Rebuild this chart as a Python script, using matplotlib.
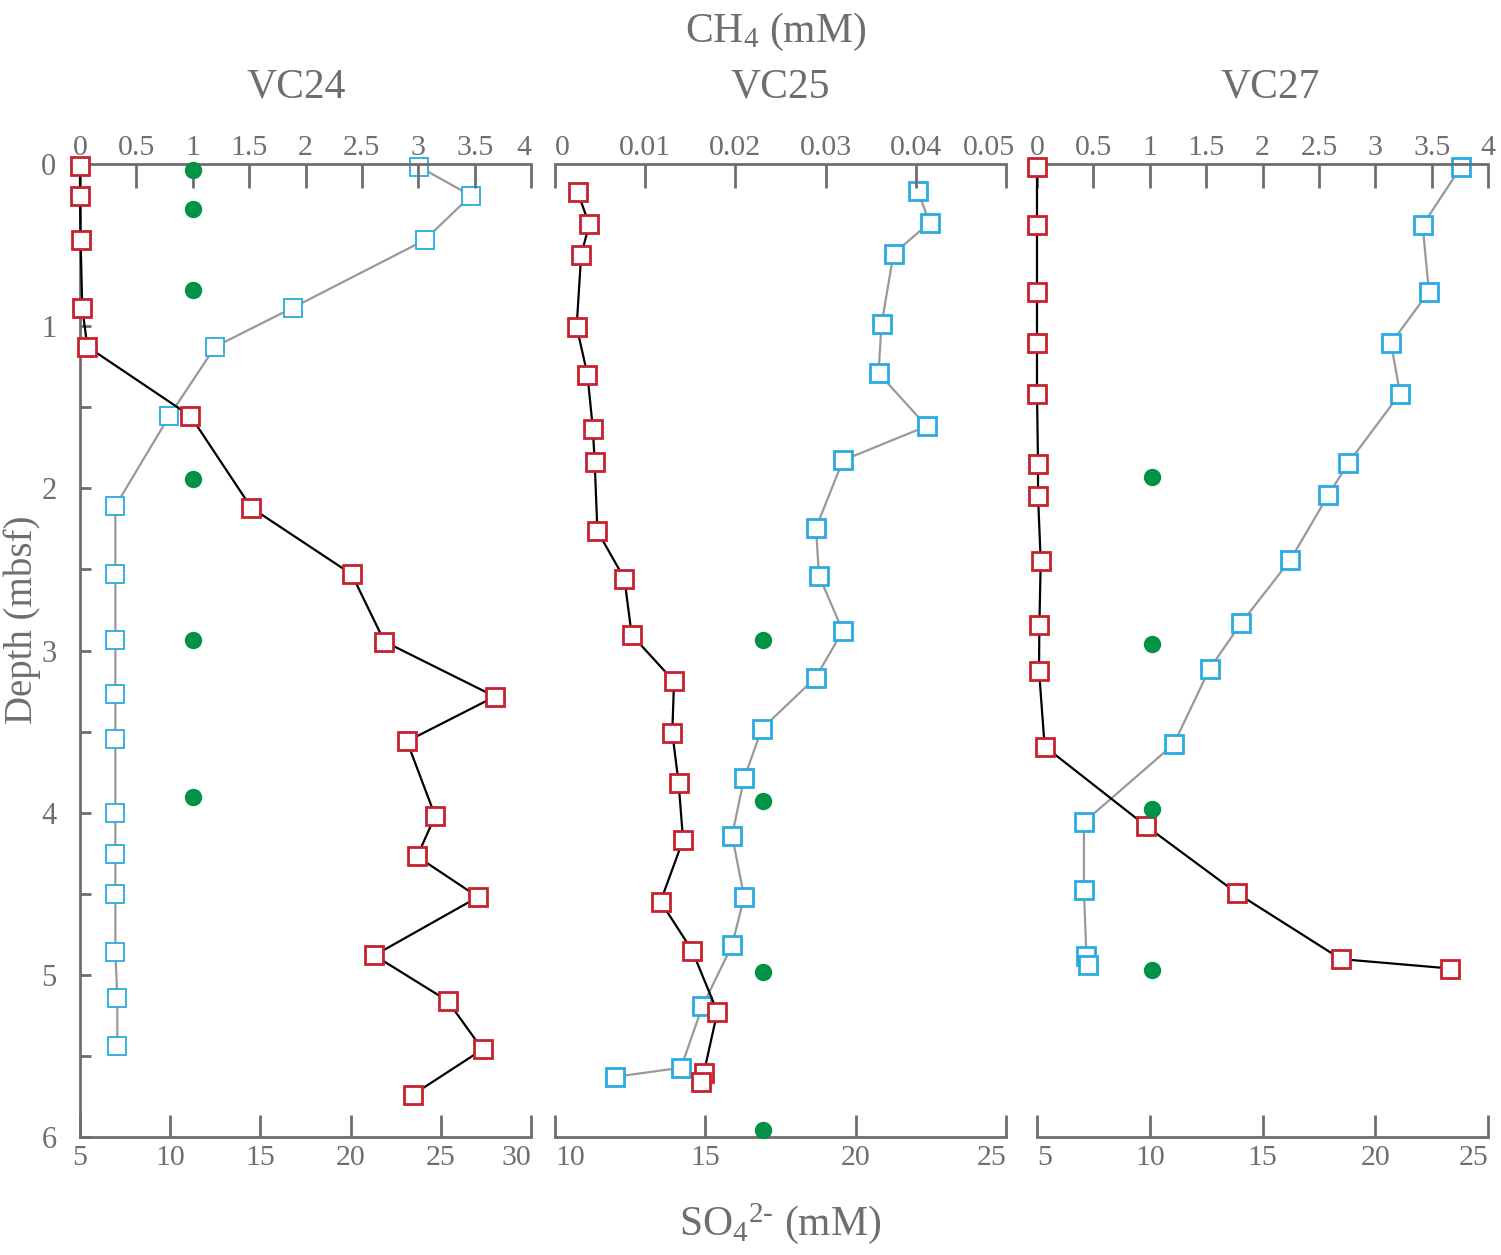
import matplotlib
matplotlib.use("Agg")
from matplotlib import pyplot as plt
from matplotlib.ticker import FixedLocator
from matplotlib.transforms import ScaledTranslation

plt.rcParams["font.family"] = ["Liberation Serif", "DejaVu Serif"]
plt.rcParams["mathtext.fontset"] = "custom"
plt.rcParams["mathtext.rm"] = "Liberation Serif"
plt.rcParams["mathtext.it"] = "Liberation Serif:italic"

GRAY = "#6e6e6e"
RED = "#c8202f"
BLUE = "#29abe2"
GREEN = "#009245"

# VC24
vc24_ch4_depth = [0.01, 0.195, 0.47, 0.886, 1.126, 1.554, 2.12, 2.53, 2.945,
                  3.284, 3.56, 4.02, 4.27, 4.52, 4.88, 5.16, 5.46, 5.74]
vc24_ch4 = [0, 0, 0.005, 0.02, 0.065, 0.98, 1.52, 2.41, 2.70,
            3.68, 2.90, 3.15, 2.99, 3.53, 2.61, 3.26, 3.57, 2.95]
vc24_so4_depth = [0.017, 0.195, 0.47, 0.886, 1.126, 1.552, 2.11, 2.53, 2.935,
                  3.27, 3.545, 4.003, 4.256, 4.50, 4.86, 5.14, 5.44]
vc24_so4 = [23.8, 26.67, 24.1, 16.8, 12.5, 9.96, 6.96, 6.96, 6.96,
            6.96, 6.96, 6.96, 6.96, 6.96, 6.96, 7.07, 7.07]
vc24_green_depth = [0.04, 0.28, 0.78, 1.94, 2.935, 3.905]
vc24_green_x = 1.0

# VC25
vc25_ch4_depth = [0.173, 0.372, 0.561, 1.003, 1.30, 1.634, 1.84, 2.263, 2.558, 2.904,
                  3.19, 3.506, 3.814, 4.168, 4.548, 4.85, 5.228, 5.606, 5.66]
vc25_ch4 = [0.0025, 0.0038, 0.0029, 0.0024, 0.0036, 0.0042, 0.0044, 0.0047, 0.0077, 0.0085,
            0.0132, 0.0130, 0.0137, 0.0142, 0.0117, 0.0152, 0.0180, 0.0165, 0.0162]
vc25_so4_depth = [0.164, 0.362, 0.553, 0.988, 1.289, 1.617, 1.827, 2.244, 2.538, 2.879,
                  3.167, 3.483, 3.787, 4.141, 4.519, 4.817, 5.195, 5.573, 5.629]
vc25_so4 = [22.06, 22.46, 21.26, 20.86, 20.76, 22.36, 19.58, 18.68, 18.78, 19.57,
            18.67, 16.88, 16.29, 15.89, 16.29, 15.89, 14.90, 14.19, 12.0]
vc25_green_depth = [2.935, 3.93, 4.98, 5.955]
vc25_green_x = 0.0231

# VC27
vc27_ch4_depth = [0.016, 0.378, 0.789, 1.106, 1.418, 1.848, 2.047, 2.448, 2.843,
                  3.124, 3.592, 4.08, 4.495, 4.903, 4.961]
vc27_ch4 = [0, 0, 0, 0, 0, 0.009, 0.009, 0.033, 0.021,
            0.018, 0.068, 0.964, 1.771, 2.696, 3.667]
vc27_so4_depth = [0.02, 0.378, 0.787, 1.106, 1.416, 1.843, 2.041, 2.44, 2.832,
                  3.111, 3.578, 4.059, 4.474, 4.881, 4.938]
vc27_so4 = [23.79, 22.10, 22.38, 20.70, 21.10, 18.81, 17.92, 16.24, 14.05,
            12.66, 11.06, 7.08, 7.08, 7.19, 7.28]
vc27_green_depth = [1.932, 2.96, 3.98, 4.97]
vc27_green_x = 1.02

cores = ["VC24", "VC25", "VC27"]
top_ticks = [[0, 0.5, 1, 1.5, 2, 2.5, 3, 3.5, 4],
             [0, 0.01, 0.02, 0.03, 0.04, 0.05],
             [0, 0.5, 1, 1.5, 2, 2.5, 3, 3.5, 4]]
top_labels = [["0", "0.5", "1", "1.5", "2", "2.5", "3", "3.5", "4"],
              ["0", "0.01", "0.02", "0.03", "0.04", "0.05"],
              ["0", "0.5", "1", "1.5", "2", "2.5", "3", "3.5", "4"]]
bot_ticks = [[5, 10, 15, 20, 25, 30], [10, 15, 20, 25], [5, 10, 15, 20, 25]]
depth_ticks = [0, 0.5, 1, 1.5, 2, 2.5, 3, 3.5, 4, 4.5, 5, 5.5, 6]

data = [
    (vc24_ch4_depth, vc24_ch4, vc24_so4_depth, vc24_so4, vc24_green_depth, vc24_green_x),
    (vc25_ch4_depth, vc25_ch4, vc25_so4_depth, vc25_so4, vc25_green_depth, vc25_green_x),
    (vc27_ch4_depth, vc27_ch4, vc27_so4_depth, vc27_so4, vc27_green_depth, vc27_green_x),
]

# end-label alignment used in the original layout (first, last)
bot_align = [("center", "right"), ("left", "right"), ("left", "right")]
top_align = [("center", "right"), ("left", "center"), ("center", "center")]

W, H = 1501, 1255
fig = plt.figure(figsize=(W / 100, H / 100), dpi=100)

# panel pixel extents (left, right), shared top/bottom
panels_px = [(80, 531), (555, 1006), (1037, 1488)]
top_px, bot_px = 164, 1137

for i, (x0, x1) in enumerate(panels_px):
    ax = fig.add_axes([x0 / W, (H - bot_px) / H, (x1 - x0) / W, (bot_px - top_px) / H])
    axt = ax.twiny()
    ch4_d, ch4, so4_d, so4, g_d, g_x = data[i]

    ax.set_xlim(bot_ticks[i][0], bot_ticks[i][-1])
    axt.set_xlim(top_ticks[i][0], top_ticks[i][-1])
    ax.set_ylim(6, 0)

    blue_mew = 1.3 if i == 0 else 2.0
    ax.plot(so4, so4_d, color="#999999", lw=1.6, marker="s", ms=12.5,
            mfc="white", mec=BLUE, mew=blue_mew, clip_on=False, zorder=3)
    axt.plot(ch4, ch4_d, color="black", lw=1.6, marker="s", ms=12.5,
             mfc="white", mec=RED, mew=2.0, clip_on=False, zorder=4)
    axt.plot([g_x] * len(g_d), g_d, linestyle="none", marker="o", ms=11.5,
             color=GREEN, clip_on=False, zorder=5)

    # spines
    for s in ["top", "right"]:
        ax.spines[s].set_visible(False)
    for s in ["bottom", "left", "right"]:
        axt.spines[s].set_visible(False)
    ax.spines["bottom"].set_color(GRAY)
    ax.spines["bottom"].set_linewidth(2)
    axt.spines["top"].set_color(GRAY)
    axt.spines["top"].set_linewidth(2)

    ax.xaxis.set_major_locator(FixedLocator(bot_ticks[i]))
    ax.set_xticklabels([str(t) for t in bot_ticks[i]])
    ax.tick_params(axis="x", direction="in", length=16, width=2, color=GRAY,
                   labelcolor=GRAY, labelsize=21.5, pad=6)
    axt.xaxis.set_major_locator(FixedLocator(top_ticks[i]))
    axt.set_xticklabels(top_labels[i])
    axt.tick_params(axis="x", direction="in", length=17, width=2, color=GRAY,
                    labelcolor=GRAY, labelsize=21.5, pad=2)

    blabels = ax.get_xticklabels()
    blabels[0].set_ha(bot_align[i][0])
    blabels[-1].set_ha(bot_align[i][1])
    tlabels = axt.get_xticklabels()
    tlabels[0].set_ha(top_align[i][0])
    tlabels[-1].set_ha(top_align[i][1])
    if i == 1:
        lab = tlabels[-1]
        lab.set_transform(lab.get_transform() + ScaledTranslation(-0.17, 0, fig.dpi_scale_trans))

    if i == 0:
        ax.spines["left"].set_color(GRAY)
        ax.spines["left"].set_linewidth(2)
        ax.yaxis.set_major_locator(FixedLocator(depth_ticks))
        ax.set_yticklabels([str(int(t)) if t == int(t) else "" for t in depth_ticks])
        ax.tick_params(axis="y", direction="in", length=8, width=2, color=GRAY,
                       labelcolor=GRAY, labelsize=22, pad=17)
    else:
        ax.spines["left"].set_visible(False)
        ax.tick_params(axis="y", left=False, labelleft=False)
    axt.tick_params(axis="y", left=False, right=False, labelleft=False, labelright=False)

    ax.set_facecolor("none")
    axt.set_facecolor("none")

# panel titles
title_x = [296, 780, 1270]
for name, tx in zip(cores, title_x):
    fig.text(tx / W, 1 - 87 / H, name, ha="center", va="center", fontsize=30, color=GRAY)

fig.text(776 / W, 1 - 32 / H, r"CH$_4$ (mM)", ha="center", va="center", fontsize=30, color=GRAY)
fig.text(780 / W, 1 - 1224 / H, "SO$_4$$^{2\u2010}$ (mM)", ha="center", va="center",
         fontsize=30, color=GRAY)
fig.text(22 / W, 1 - 620 / H, "Depth (mbsf)", ha="center", va="center", rotation=90,
         fontsize=28, color=GRAY)

fig.savefig("out.png", dpi=100, facecolor="white")
